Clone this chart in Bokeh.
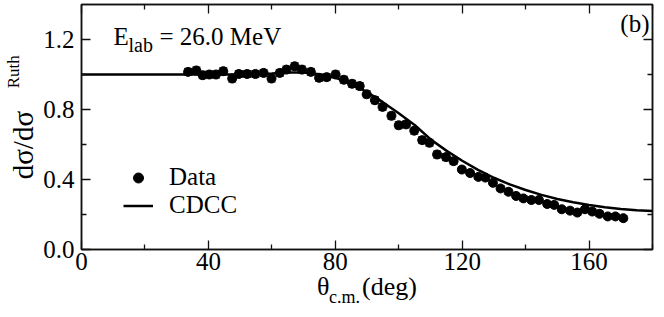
from bokeh.plotting import figure
from bokeh.models import (ColumnDataSource, FixedTicker, LinearAxis, Label, Legend,
                          LegendItem, Whisker, TeeHead, Range1d, CustomJSTickFormatter,
                          CustomLabelingPolicy)
from bokeh.embed import file_html
from bokeh.resources import INLINE

# ---- data ----
theta = [33.6, 36.2, 38.2, 40.3, 42.4, 44.7, 47.5, 49.6, 52.2, 54.8, 57.4, 59.9,
         62.5, 64.6, 67.2, 69.5, 72.3, 74.9, 77.3, 80.1, 82.7, 85.3, 87.7, 89.9,
         92.5, 94.9, 97.7, 100.0, 102.3, 104.9, 107.4, 109.7, 112.1, 114.9, 117.3,
         119.9, 122.5, 125.1, 127.3, 129.7, 132.1, 134.6, 137.0, 139.3, 141.8, 144.2,
         146.8, 149.0, 151.4, 154.0, 156.3, 158.7, 161.0, 163.3, 165.9, 168.3, 170.8]
ratio = [1.015, 1.023, 0.996, 1.000, 1.000, 1.019, 0.977, 1.003, 1.003, 1.003, 1.009, 0.977,
         1.009, 1.028, 1.047, 1.028, 1.015, 0.981, 0.985, 1.000, 0.970, 0.947, 0.934, 0.887,
         0.853, 0.815, 0.764, 0.710, 0.715, 0.679, 0.625, 0.610, 0.543, 0.528, 0.505,
         0.457, 0.437, 0.415, 0.411, 0.381, 0.349, 0.330, 0.306, 0.292, 0.283, 0.283,
         0.260, 0.255, 0.230, 0.222, 0.211, 0.230, 0.217, 0.204, 0.189, 0.189, 0.179]
err = [0.02, 0.02, 0.02, 0.02, 0.02, 0.02, 0.02, 0.02, 0.02, 0.02, 0.02, 0.02,
       0.02, 0.02, 0.02, 0.02, 0.02, 0.02, 0.02, 0.02, 0.02, 0.02, 0.02, 0.02,
       0.02, 0.02, 0.02, 0.02, 0.02, 0.02, 0.02, 0.02, 0.02, 0.02, 0.02,
       0.015, 0.015, 0.015, 0.015, 0.015, 0.015, 0.015, 0.015, 0.015, 0.015, 0.015,
       0.015, 0.015, 0.015, 0.015, 0.015, 0.015, 0.015, 0.015, 0.015, 0.015, 0.015]

cdcc_theta = [0, 10, 20, 30, 40, 50, 55, 60, 65, 70, 75, 80, 85, 90, 95, 100, 105,
              110, 115, 120, 125, 130, 135, 140, 145, 150, 155, 160, 165, 170, 175, 180]
cdcc_ratio = [1.0, 1.0, 1.0, 1.0, 1.0, 1.0, 1.002, 1.006, 1.012, 1.012, 1.002, 0.982,
              0.948, 0.900, 0.842, 0.778, 0.712, 0.630, 0.565, 0.507, 0.455, 0.410,
              0.372, 0.340, 0.312, 0.289, 0.270, 0.254, 0.241, 0.231, 0.224, 0.220]

x_ticks = [0, 40, 80, 120, 160]
x_minor = [20, 60, 100, 140, 180]
y_ticks = [0.0, 0.4, 0.8, 1.2]
y_minor = [0.2, 0.6, 1.0]

FONT = "Liberation Serif"
INK = "#111111"
NB = "\u00a0"

p = figure(width=656, height=309, output_backend="svg", toolbar_location=None,
           x_range=Range1d(0, 180), y_range=Range1d(0, 1.4),
           min_border_left=80, min_border_right=3, min_border_top=3, min_border_bottom=59,
           background_fill_color="white", border_fill_color="white")
p.xgrid.visible = False
p.ygrid.visible = False
p.outline_line_color = INK
p.outline_line_width = 1.5

def style_axis(ax, ticks, minor, labels=True):
    ax.ticker = FixedTicker(ticks=ticks, minor_ticks=minor)
    ax.axis_line_color = INK
    ax.axis_line_width = 1.5
    ax.major_tick_line_color = INK
    ax.minor_tick_line_color = INK
    ax.major_tick_line_width = 1.3
    ax.minor_tick_line_width = 1.3
    ax.major_tick_in = 9
    ax.major_tick_out = 0
    ax.minor_tick_in = 5
    ax.minor_tick_out = 0
    ax.major_label_text_font = FONT
    ax.major_label_text_font_size = "25px"
    ax.major_label_text_color = "black"
    if not labels:
        ax.major_label_policy = CustomLabelingPolicy(code="return []")
        ax.major_label_text_font_size = "1px"
        ax.major_label_standoff = 0

def label_axis(ax, text, size, standoff):
    ax.ticker = FixedTicker(ticks=[], minor_ticks=[])
    ax.axis_line_alpha = 0
    ax.major_tick_in = 0
    ax.major_tick_out = 0
    ax.minor_tick_in = 0
    ax.minor_tick_out = 0
    ax.axis_label = text
    ax.axis_label_text_font = FONT
    ax.axis_label_text_font_style = "normal"
    ax.axis_label_text_font_size = size
    ax.axis_label_text_color = "black"
    ax.axis_label_standoff = standoff

xa = p.xaxis[0]
ya = p.yaxis[0]
style_axis(xa, x_ticks, x_minor)
style_axis(ya, y_ticks, y_minor)
xa.major_label_standoff = 3
ya.major_label_standoff = 7
ya.formatter = CustomJSTickFormatter(code="return tick.toFixed(1)")

# axis titles (main parts)
xa.axis_label = "\u03b8" + NB * 5 + "(deg)"
xa.axis_label_text_font = FONT
xa.axis_label_text_font_style = "normal"
xa.axis_label_text_font_size = "26px"
xa.axis_label_text_color = "black"
xa.axis_label_standoff = -1

ya.axis_label = "d\u03c3/d\u03c3" + NB * 5
ya.axis_label_text_font = FONT
ya.axis_label_text_font_style = "normal"
ya.axis_label_text_font_size = "29px"
ya.axis_label_text_color = "black"
ya.axis_label_standoff = 1

# sub/superscript parts on label-only axes
sub_ax = LinearAxis()
label_axis(sub_ax, "c.m." + NB * 10, "18px", -17)
p.add_layout(sub_ax, "below")
sup_ax = LinearAxis()
label_axis(sup_ax, NB * 26 + "Ruth", "17px", -18)
p.add_layout(sup_ax, "left")

top = LinearAxis()
style_axis(top, x_ticks, x_minor, labels=False)
p.add_layout(top, "above")
right = LinearAxis()
style_axis(right, y_ticks, y_minor, labels=False)
p.add_layout(right, "right")

src = ColumnDataSource(dict(x=theta, y=ratio,
                            lo=[r - e for r, e in zip(ratio, err)],
                            hi=[r + e for r, e in zip(ratio, err)]))
w = Whisker(source=src, base="x", lower="lo", upper="hi", dimension="height",
            line_color=INK, line_width=1,
            upper_head=TeeHead(size=8, line_color=INK, line_width=1),
            lower_head=TeeHead(size=8, line_color=INK, line_width=1))
p.add_layout(w)

line_r = p.line(cdcc_theta, cdcc_ratio, line_color="black", line_width=2.5)
pts_r = p.scatter("x", "y", source=src, size=9, marker="circle",
                  fill_color="black", line_color="black")

legend = Legend(items=[LegendItem(label="Data", renderers=[pts_r]),
                       LegendItem(label="CDCC", renderers=[line_r])],
                location=(42, 30), orientation="vertical",
                border_line_alpha=0, background_fill_alpha=0,
                padding=0, margin=0, spacing=0,
                glyph_width=30, glyph_height=25, label_height=25,
                label_standoff=16, label_text_font=FONT,
                label_text_font_size="25px", label_text_color="black")
p.add_layout(legend, "center")

def lab(text, x, y, size, align="left"):
    p.add_layout(Label(x=x, y=y, x_units="screen", y_units="screen", text=text,
                       text_font=FONT, text_font_size=size, text_color="black",
                       text_align=align, text_baseline="alphabetic"))

# in-plot annotations
lab("E", 32, 213, "25px")
lab("lab", 47, 205, "20px")
lab("= 26.0 MeV", 78, 213, "25px")
lab("(b)", 568, 226, "25px", align="right")

open("out.html", "w").write(file_html(p, INLINE))
